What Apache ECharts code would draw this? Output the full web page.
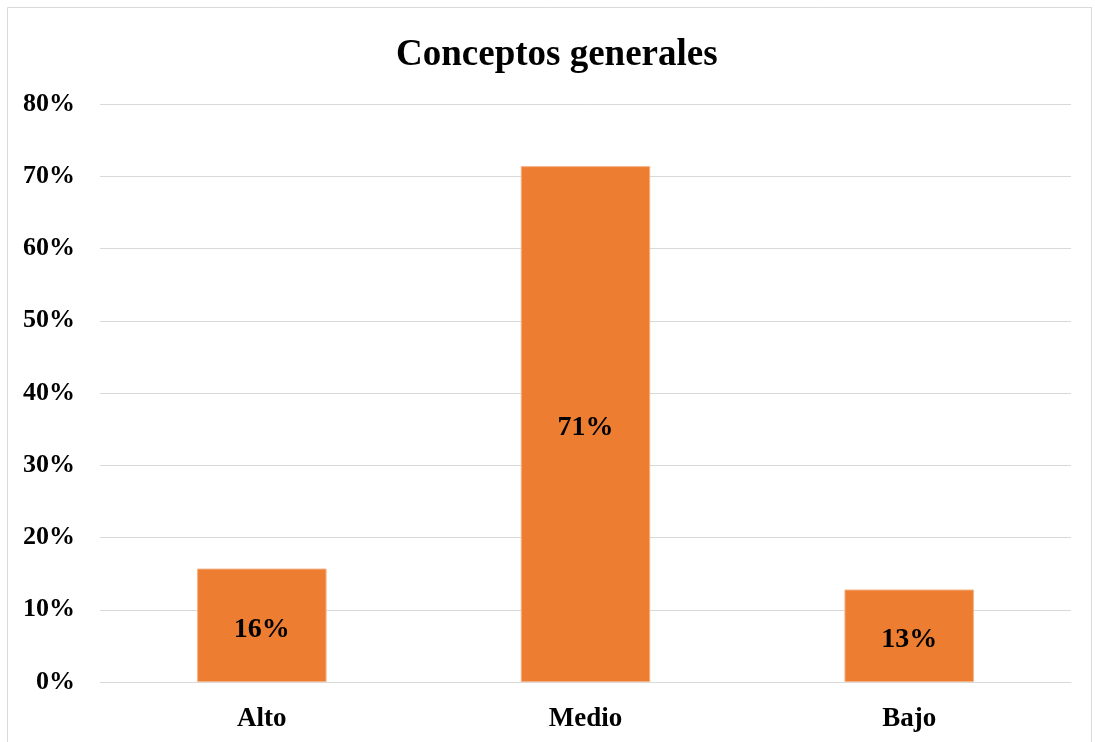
<!DOCTYPE html>
<html>
<head>
<meta charset="utf-8">
<style>
  html, body { margin: 0; padding: 0; background: #ffffff; }
  #chart { width: 1095px; height: 742px; }
</style>
<script src="https://cdn.jsdelivr.net/npm/echarts@6/dist/echarts.min.js"></script>
</head>
<body>
<div id="chart"></div>
<script>
// Level categories and their share of responses (percent)
const categories = ['Alto', 'Medio', 'Bajo'];
const shares = [15.7, 71.4, 12.8];
const yTicks = { min: 0, max: 80, step: 10 };

const serif = '"Liberation Serif", "Times New Roman", serif';
const chart = echarts.init(document.getElementById('chart'), null, { renderer: 'canvas' });

chart.setOption({
  backgroundColor: '#ffffff',
  animation: false,
  graphic: [{
    type: 'rect',
    shape: { x: 7.5, y: 7.5, width: 1084, height: 760 },
    style: { fill: 'none', stroke: '#d9d9d9', lineWidth: 1 },
    silent: true
  }],
  title: {
    text: 'Conceptos generales',
    left: 391,
    top: 32,
    textStyle: { fontFamily: serif, fontWeight: 'bold', fontSize: 37, color: '#000000' }
  },
  grid: { left: 100, right: 24, top: 104, bottom: 60, containLabel: false },
  xAxis: {
    type: 'category',
    data: categories,
    axisLine: { show: true, lineStyle: { color: '#d9d9d9', width: 1 } },
    axisTick: { show: false },
    axisLabel: {
      margin: 24,
      fontFamily: serif, fontWeight: 'bold', fontSize: 27, color: '#000000'
    }
  },
  yAxis: {
    type: 'value',
    min: yTicks.min,
    max: yTicks.max,
    interval: yTicks.step,
    axisLine: { show: false },
    axisTick: { show: false },
    splitLine: { lineStyle: { color: '#d9d9d9', width: 1 } },
    axisLabel: {
      margin: 25,
      formatter: v => v + '%',
      fontFamily: serif, fontWeight: 'bold', fontSize: 26, color: '#000000'
    }
  },
  series: [{
    type: 'bar',
    data: shares,
    barWidth: '40%',
    itemStyle: { color: '#ED7D31', borderColor: '#F4B183', borderWidth: 1 },
    label: {
      show: true,
      position: 'inside',
      offset: [0, 4],
      formatter: p => Math.round(p.value) + '%',
      fontFamily: serif, fontWeight: 'bold', fontSize: 28, color: '#000000'
    }
  }]
});
</script>
</body>
</html>
